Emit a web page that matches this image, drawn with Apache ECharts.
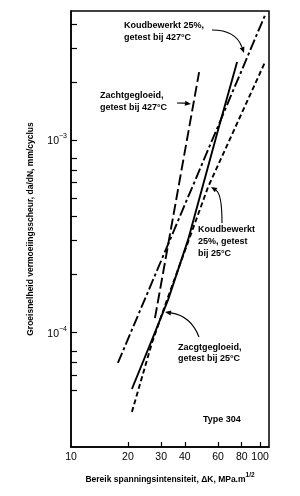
<!DOCTYPE html>
<html>
<head>
<meta charset="utf-8">
<script src="https://cdn.jsdelivr.net/npm/echarts@6/dist/echarts.min.js"></script>
<style>
html, body { margin: 0; padding: 0; background: #fff; }
#chart { width: 300px; height: 496px; }
</style>
</head>
<body>
<div id="chart"></div>
<script>
// dK (MPa.m^1/2) and da/dN (mm/cyclus)
const annealed427K = [27.8, 47.6]
const annealed427Rate = [1.19e-4, 2.25e-3]
const cold427K = [17.7, 106.3]
const cold427Rate = [6.96e-5, 4.45e-3]
const cold25K = [21.0, 26.8, 32.2, 53.1, 106.3]
const cold25Rate = [3.88e-5, 8.84e-5, 1.48e-4, 5.70e-4, 2.54e-3]
const annealed25K = [21.0, 27.2, 32.6, 41.6, 60.0, 75.6]
const annealed25Rate = [5.10e-5, 9.50e-5, 1.48e-4, 3.03e-4, 1.13e-3, 2.54e-3]

const xLabels = [10, 20, 30, 40, 60, 80, 100]
const xTicks = [20, 30, 40, 60, 80, 100]
const yLabels = [1e-4, 1e-3]
const yTicks = [5e-5, 6e-5, 7e-5, 8e-5, 1e-4, 2e-4, 3e-4, 4e-4, 5e-4, 6e-4, 7e-4, 8e-4, 1e-3, 2e-3, 3e-3, 4e-3]

const font = 'Liberation Sans, Arial, sans-serif'

const pairs = (xs, ys) => xs.map((x, i) => [x, ys[i]])

const lineSeries = (name, xs, ys, dash) => ({
    name: name,
    type: 'line',
    data: pairs(xs, ys),
    showSymbol: false,
    silent: true,
    lineStyle: { color: '#000', width: 1.9, type: dash }
})

const label = (text, x, y) => ({
    type: 'text',
    style: {
        text: text, x: x, y: y,
        font: 'bold 9px ' + font,
        fill: '#000',
        verticalAlign: 'middle'
    }
})

const arrow = (x1, y1, cx, cy, x2, y2) => {
    const a = Math.atan2(y2 - cy, x2 - cx)
    const len = 6, w = 2.5
    const bx = x2 - len * Math.cos(a), by = y2 - len * Math.sin(a)
    return [
        {
            type: 'bezierCurve',
            shape: { x1: x1, y1: y1, cpx1: cx, cpy1: cy, x2: bx, y2: by },
            style: { stroke: '#000', lineWidth: 1.1, fill: null }
        },
        {
            type: 'polygon',
            shape: { points: [[x2, y2], [bx - w * Math.sin(a), by + w * Math.cos(a)], [bx + w * Math.sin(a), by - w * Math.cos(a)]] },
            style: { fill: '#000' }
        }
    ]
}

const myChart = echarts.init(document.getElementById('chart'))
const option = {
    animation: false,
    grid: {
        left: 71, right: 31, top: 11, bottom: 49,
        show: true, borderColor: '#000', borderWidth: 1.5
    },
    xAxis: {
        type: 'log',
        logBase: 10,
        min: 10,
        max: 111.5,
        name: '{n|Bereik spanningsintensiteit, ΔK, MPa.m}{s|1/2}',
        nameLocation: 'middle',
        nameGap: 25,
        nameTextStyle: {
            rich: {
                n: { fontFamily: font, fontWeight: 'bold', fontSize: 8.5, color: '#000', verticalAlign: 'bottom', lineHeight: 12 },
                s: { fontFamily: font, fontWeight: 'bold', fontSize: 6.5, color: '#000', verticalAlign: 'top', lineHeight: 12 }
            }
        },
        axisLine: { lineStyle: { color: '#000', width: 1.5 } },
        axisTick: { inside: true, length: 5, customValues: xTicks, lineStyle: { color: '#000', width: 1.2 } },
        axisLabel: { customValues: xLabels, color: '#000', fontFamily: font, fontSize: 10.5, margin: 5 },
        splitLine: { show: false },
        minorTick: { show: false }
    },
    yAxis: {
        type: 'log',
        logBase: 10,
        min: 2.55e-5,
        max: 4.67e-3,
        name: 'Groeisnelheid vermoeiingsscheur, da/dN, mm/cyclus',
        nameLocation: 'middle',
        nameGap: 36,
        nameTextStyle: { fontFamily: font, fontWeight: 'bold', fontSize: 8.5, color: '#000' },
        axisLine: { lineStyle: { color: '#000', width: 1.5 } },
        axisTick: { inside: true, length: 6, customValues: yTicks, lineStyle: { color: '#000', width: 1.2 } },
        axisLabel: {
            customValues: yLabels,
            margin: 4,
            formatter: v => '{b|10}{s|' + (v < 5e-4 ? '−4' : '−3') + '}',
            rich: {
                b: { fontFamily: font, fontSize: 10.5, color: '#000', verticalAlign: 'bottom', lineHeight: 14 },
                s: { fontFamily: font, fontSize: 7, color: '#000', verticalAlign: 'top', lineHeight: 14 }
            }
        },
        splitLine: { show: false },
        minorTick: { show: false }
    },
    series: [
        lineSeries('Zachtgegloeid, 427°C', annealed427K, annealed427Rate, [11, 4]),
        lineSeries('Koudbewerkt 25%, 427°C', cold427K, cold427Rate, [11, 3, 3, 3]),
        lineSeries('Koudbewerkt 25%, 25°C', cold25K, cold25Rate, [5, 3]),
        lineSeries('Zachtgegloeid, 25°C', annealed25K, annealed25Rate, 'solid')
    ],
    graphic: [
        label('Koudbewerkt 25%,', 124, 26),
        label('getest bij 427°C', 124, 38),
        label('Zachtgegloeid,', 100, 96),
        label('getest bij 427°C', 100, 108),
        label('Koudbewerkt', 198, 230),
        label('25%, getest', 198, 242),
        label('bij 25°C', 198, 254),
        label('Zacgtgegloeid,', 178, 348),
        label('getest bij 25°C', 178, 359),
        label('Type 304', 203, 420),
        ...arrow(212, 30, 236, 30, 244, 53),
        ...arrow(177, 103, 184, 103, 191, 104),
        ...arrow(222, 223, 222, 194, 211, 187),
        ...arrow(199, 337, 191, 316, 165, 312)
    ]
}
myChart.setOption(option)
</script>
</body>
</html>
